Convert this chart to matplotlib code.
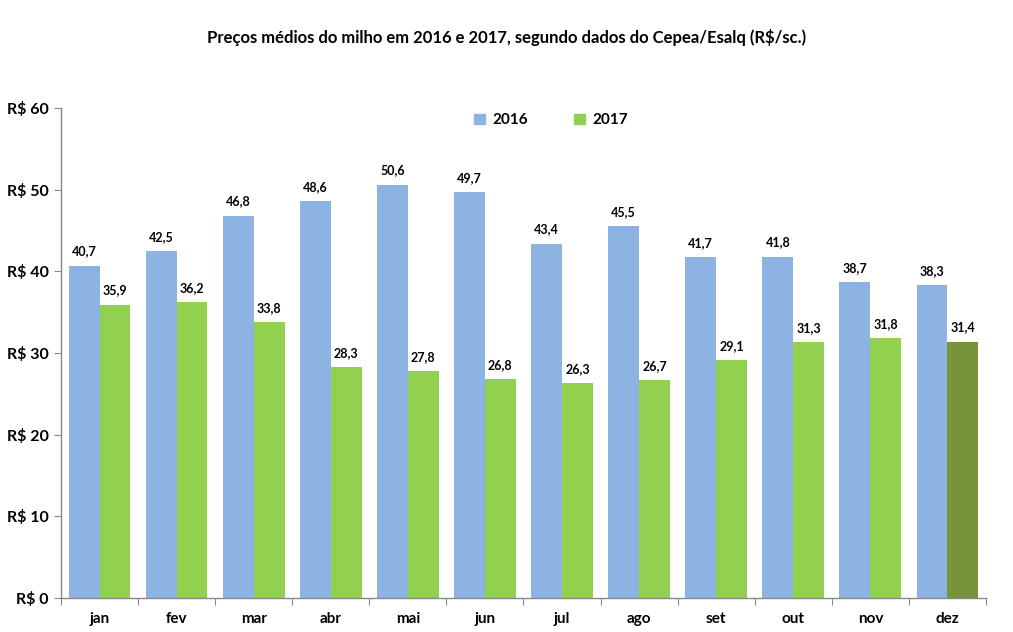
import matplotlib
matplotlib.use("Agg")
import matplotlib.pyplot as plt
import numpy as np

months = ["jan", "fev", "mar", "abr", "mai", "jun", "jul", "ago", "set", "out", "nov", "dez"]
v2016 = [40.7, 42.5, 46.8, 48.6, 50.6, 49.7, 43.4, 45.5, 41.7, 41.8, 38.7, 38.3]
v2017 = [35.9, 36.2, 33.8, 28.3, 27.8, 26.8, 26.3, 26.7, 29.1, 31.3, 31.8, 31.4]
yticks = [0, 10, 20, 30, 40, 50, 60]

plt.rcParams['font.family'] = ['Lato', 'DejaVu Sans']
fig = plt.figure(figsize=(10.13, 6.32), dpi=100)
ax = fig.add_axes([0.0602, 0.0538, 0.9131, 0.7752])

x = np.arange(len(months))
w = 0.40
c16 = "#8DB3E2"
c17 = "#92D050"
c17_last = "#77933C"
colors17 = [c17] * (len(months) - 1) + [c17_last]

b1 = ax.bar(x - w / 2, v2016, w, color=c16, label="2016")
b2 = ax.bar(x + w / 2, v2017, w, color=colors17, label="2017")

def fmt(v):
    return f"{v:.1f}".replace(".", ",")

for rect, v in zip(b1, v2016):
    ax.annotate(fmt(v), (rect.get_x() + rect.get_width() / 2, v), xytext=(0, 6),
                textcoords="offset points", ha="center", va="bottom", fontsize=9, fontweight="bold")
for rect, v in zip(b2, v2017):
    ax.annotate(fmt(v), (rect.get_x() + rect.get_width() / 2, v), xytext=(0, 6),
                textcoords="offset points", ha="center", va="bottom", fontsize=9, fontweight="bold")

ax.set_xlim(-0.5, len(months) - 0.5)
ax.set_ylim(0, 60)
ax.set_yticks(yticks)
ax.set_yticklabels([f"R$ {t}" for t in yticks], fontsize=11.5, fontweight="bold")
ax.set_xticks(np.arange(-0.5, len(months), 1))
ax.set_xticklabels([])
ax.set_xticks(x, minor=True)
ax.set_xticklabels(months, minor=True, fontsize=11, fontweight="bold")
ax.tick_params(axis="x", which="minor", length=0, pad=10)
ax.tick_params(axis="x", which="major", length=5, color="#888888", direction="out")
ax.tick_params(axis="y", length=5, color="#888888", direction="out", pad=4)

for s in ["top", "right"]:
    ax.spines[s].set_visible(False)
for s in ["left", "bottom"]:
    ax.spines[s].set_color("#888888")
    ax.spines[s].set_linewidth(1.0)

from matplotlib.patches import Patch
handles = [Patch(color=c16, label="2016"), Patch(color=c17, label="2017")]
leg = ax.legend(handles=handles, loc="center", bbox_to_anchor=(0.53, 0.975), ncol=2, frameon=False,
                prop={"weight": "bold", "size": 11}, handlelength=0.7, handleheight=0.7,
                columnspacing=3.0, handletextpad=0.5)

fig.text(0.5, 0.94, "Preços médios do milho em 2016 e 2017, segundo dados do Cepea/Esalq (R$/sc.)",
         ha="center", va="center", fontsize=12, fontweight="bold")

fig.savefig("out.png", dpi=100)
